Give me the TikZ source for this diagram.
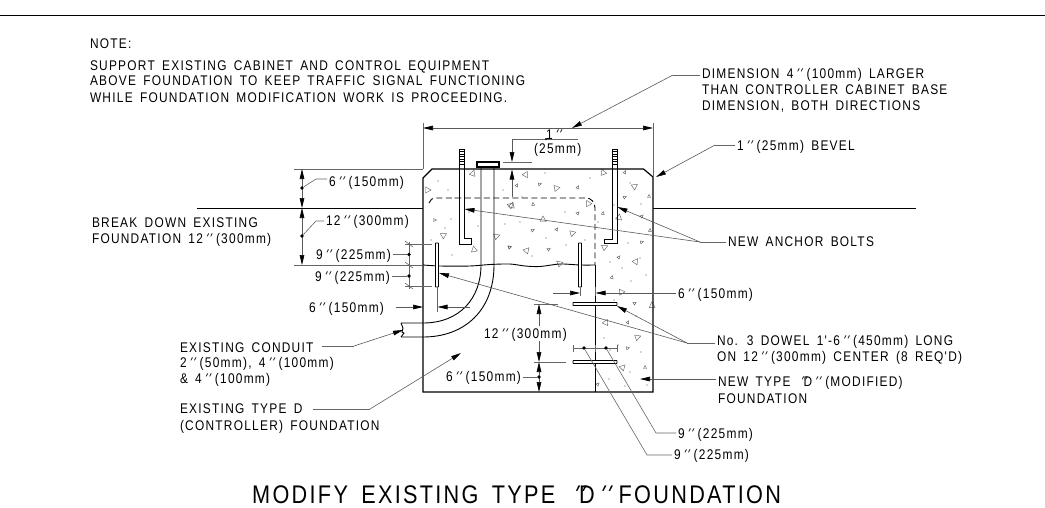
\documentclass[tikz,border=0pt]{standalone}
\usepackage{fontspec}
\usetikzlibrary{arrows.meta}
\newfontfamily\cadfont[FakeStretch=0.85,LetterSpace=9,WordSpace=1.6]{Liberation Sans}
\newfontfamily\cadslant[FakeStretch=0.85,FakeSlant=0.5,LetterSpace=9]{Liberation Sans}
\newcommand{\dq}{{\cadslant''}}
\tikzset{
  lbl/.style={anchor=base west,inner sep=0pt,outer sep=2pt,font=\cadfont\fontsize{14}{14}\selectfont},
  ttl/.style={anchor=base west,inner sep=0pt,font=\cadfont\fontsize{25.5}{26}\selectfont},
  heavy/.style={line width=1.2pt,black},
  mid/.style={line width=0.9pt,black},
  thin line/.style={line width=0.6pt,black!60},
  dimarrow/.style={line width=0.6pt,black!65,{Triangle[length=10pt,width=4.6pt,black]}-{Triangle[length=10pt,width=4.6pt,black]}},
  tipend/.style={line width=0.6pt,black!65,-{Triangle[length=10pt,width=4.6pt,black]}},
  pebble/.style={line width=0.45pt,black!60},
  speck/.style={fill=black!70,draw=none},
  dimdot/.style={circle,fill=black,inner sep=0pt,minimum size=3.6pt},
  dowel/.style={line width=0.9pt,black,fill=white,rounded corners=0.5pt}
}
\begin{document}
\begin{tikzpicture}[x=1pt,y=-1pt]
\useasboundingbox (0,0) rectangle (1045,507);
\draw[line width=1pt] (0,15) -- (1045,15);
% ground
\draw[line width=1pt] (197,208) -- (423,208) (653,208) -- (916,208);
% aggregate
\foreach \x/\y/\a in {428/190/0,444/235/30,473/173/70,474/249/100,497/236/20,526/174/60,557/188/10,511/205/40,588/203/120,543/219/90,573/233/15,527/250/50,559/263/140,605/247/25,619/217/80,635/186/35,603/172/110,636/261/55,622/292/5,652/305/95,606/322/65,638/337/20,623/367/45,512/205/75}
  \draw[pebble,rotate around={\a:(\x,\y)}] (\x-2.5,\y-3) -- (\x+3,\y) -- (\x-2.5,\y+3) -- cycle;
\foreach \x/\y/\a in {435/220/0,510/247/30,517/185/60,540/184/15,578/187/70,533/204/100,578/213/45,603/213/80,533/230/20,557/229/55,510/247/10,549/249/35,625/172/65,625/197/25,649/196/90,642/216/40,650/230/85,642/242/15,619/257/50,612/277/75,635/303/30,628/322/60,628/348/10,645/367/90,598/384/45}
  \draw[pebble,rotate around={\a:(\x,\y)}] (\x-1.5,\y-1.5) -- (\x+1.5,\y) -- (\x-1.5,\y+1.5) -- cycle;
\foreach \x/\y in {438/181,448/190,451/219,431/240,455/198,469/212,478/226,452/255,445/228,503/190,522/197,545/173,565/212,590/178,598/222,630/183,641/204,614/205,585/240,566/245,505/224,520/222,532/256,546/238,628/243,640/258,610/262,622/268,646/275,631/281,614/300,636/316,604/338,618/345,641/352,630/372,609/379,647/385,625/386,610/350}
  \fill[speck] (\x,\y) circle (0.6);
% foundation
\draw[heavy] (423,392) -- (423,178) -- (432,169) -- (643.5,169) -- (653,177) -- (653,392) -- cycle;
\draw[mid] (595,265) -- (595,392);
\draw[mid,dash pattern=on 6pt off 3.5pt] (429,203) .. controls (430,200) and (432,198) .. (436,198) -- (586,198) .. controls (591,198) and (595,202) .. (595,208) -- (595,265);
\draw[mid] plot[smooth] coordinates {(423,265) (440,266) (470,266) (490,264.5) (510,264) (525,266) (540,266.5) (560,264) (580,265) (595,265)};
% conduit
\draw[mid] (481,167) -- (481,265) .. controls (481,298) and (460,323) .. (423,323) -- (401,323);
\draw[mid] (494,167) -- (494,265) .. controls (494,310) and (465,337) .. (423,337) -- (401,337);
\draw[mid] (401,323) -- (403,328) -- (402,332) -- (404,333) -- (401,337);
\draw[heavy,fill=white] (477,162) rectangle (499,167);
% anchor bolts
\draw[mid] (459,149) -- (459,244) -- (471,244) -- (471,238) -- (464,238) -- (464,149) -- cycle;
\draw[mid] (617,149) -- (617,243) -- (604,243) -- (604,239) -- (612,239) -- (612,149) -- cycle;
\foreach \y in {151.5,154,156.5,159,161.5,164}{
  \draw[line width=0.5pt] (459,\y) -- (464,\y) (612,\y) -- (617,\y);
}
% dowels
\draw[dowel] (435.5,243) rectangle (438.5,287);
\draw[dowel] (578.5,243) rectangle (581.5,287);
\draw[dowel] (573,302.5) rectangle (617,305.5);
\draw[dowel] (573,360.5) rectangle (617,363.5);
% overall dimension
\draw[thin line] (423,123) -- (423,169) (653,123) -- (653,177);
\draw[dimarrow] (423,128) -- (653,128);
% bar dimension at top
\node[lbl] (oneinch) at (544,139) {1\dq};
\node[lbl] (bar) at (532,153) {(25mm)};
\draw[thin line] (512,139) -- (578,139);
\fill (546,139) circle (1.2);
\draw[tipend] (512,139) -- (512,162);
\draw[thin line] (503,162) -- (532,162);
\draw[tipend] (512,197) -- (512,169.5);
% left dimensions
\draw[thin line] (294,169) -- (423,169) (294,265) -- (423,265);
\draw[dimarrow] (302,169) -- (302,208);
\draw[dimarrow] (302,208) -- (302,265);
\node[dimdot] (dA) at (302,188) {};
\node[dimdot] (dB) at (302,236) {};
\node[lbl] (sixa) at (327,186) {6\dq\ (150mm)};
\node[lbl] (twelvea) at (324,225) {12\dq\ (300mm)};
\draw[thin line] (dA) -- (316,179) -- (sixa.west |- 0,179);
\draw[thin line] (dB) -- (316,221) -- (twelvea.west |- 0,221);
\draw[thin line] (405,244) -- (432,244) (405,286) -- (432,286) (409,242) -- (409,289);
\draw[thin line] (405,241) -- (413,247) (405,262) -- (413,268) (405,283) -- (413,289);
\node[dimdot] (dC) at (409,254.5) {};
\node[dimdot] (dD) at (409,276) {};
\node[lbl] (ninea) at (314,259) {9\dq\ (225mm)};
\node[lbl] (nineb) at (313,281) {9\dq\ (225mm)};
\draw[thin line] (ninea.east |- 0,254.5) -- (dC);
\draw[thin line] (nineb.east |- 0,276) -- (dD);
\node[lbl] (sixb) at (307,312) {6\dq\ (150mm)};
\draw[thin line] (437,287) -- (437,312);
\draw[tipend] (396,307) -- (423,307);
\draw[tipend] (470,307) -- (437.5,307);
% inner dimensions
\draw[thin line] (580,287) -- (580,296) (595,287) -- (595,296);
\draw[tipend] (553,293) -- (580,293);
\node[lbl] (sixc) at (676,298) {6\dq\ (150mm)};
\draw[tipend] (sixc.west |- 0,293) -- (595.5,293);
\draw[thin line] (534,304) -- (558,304) (534,362) -- (566,362);
\draw[tipend] (539,326) -- (539,304);
\draw[tipend] (539,341) -- (539,362);
\node[lbl] (twelveb) at (482,338) {12\dq\ (300mm)};
\draw[dimarrow] (539,362) -- (539,392);
\node[dimdot] (dE) at (539,377) {};
\node[lbl] (sixd) at (444,381) {6\dq\ (150mm)};
\draw[thin line] (sixd.east |- 0,377) -- (dE);
\draw[thin line] (573,348) -- (617,348) (573,345) -- (573,352) (595,345) -- (595,352) (617,345) -- (617,352);
\node[dimdot] (dF) at (584,348) {};
\node[dimdot] (dG) at (606,348) {};
\node[lbl] (ninec) at (676,438) {9\dq\ (225mm)};
\node[lbl] (nined) at (672,459) {9\dq\ (225mm)};
\draw[thin line] (dG) -- (656,433) -- (ninec.west |- 0,433);
\draw[thin line] (dF) -- (647,455) -- (nined.west |- 0,455);
% note
\node[lbl] (nt0) at (88,48) {NOTE:};
\node[lbl] (nt1) at (88,70) {SUPPORT EXISTING CABINET AND CONTROL EQUIPMENT};
\node[lbl] (nt2) at (88,85) {ABOVE FOUNDATION TO KEEP TRAFFIC SIGNAL FUNCTIONING};
\node[lbl] (nt3) at (88,102) {WHILE FOUNDATION MODIFICATION WORK IS PROCEEDING.};
% left notes
\node[lbl] (bd1) at (90,227) {BREAK DOWN EXISTING};
\node[lbl] (bd2) at (90,243) {FOUNDATION 12\dq\ (300mm)};
\node[lbl] (ec1) at (178,352) {EXISTING CONDUIT};
\node[lbl] (ec2) at (178,367) {2\dq\ (50mm), 4\dq\ (100mm)};
\node[lbl] (ec3) at (178,383) {\& 4\dq\ (100mm)};
\node[lbl] (et1) at (178,413) {EXISTING TYPE D};
\node[lbl] (et2) at (178,430) {(CONTROLLER) FOUNDATION};
\coordinate (tipEC) at (403,330);
\coordinate (tipET) at (461,353);
\draw[thin line] (322,346) -- (354,346);
\draw[tipend] (354,346) -- (tipEC);
\draw[thin line] (313,409) -- (370,409);
\draw[tipend] (370,409) -- (tipET);
% right notes
\node[lbl] (dm1) at (700,78) {DIMENSION 4\dq\ (100mm) LARGER};
\node[lbl] (dm2) at (700,94) {THAN CONTROLLER CABINET BASE};
\node[lbl] (dm3) at (700,110) {DIMENSION, BOTH DIRECTIONS};
\coordinate (tipDM) at (572,128);
\draw[thin line] (dm1.west |- 0,75) -- (673,75);
\draw[tipend] (673,75) -- (tipDM);
\node[lbl] (bv) at (735,150) {1\dq\ (25mm) BEVEL};
\coordinate (tipBV) at (656,177);
\draw[thin line] (bv.west |- 0,145) -- (715,145);
\draw[tipend] (715,145) -- (tipBV);
\node[lbl] (nb) at (726,246) {NEW ANCHOR BOLTS};
\coordinate (tipNBa) at (617.5,207);
\coordinate (tipNBb) at (464.5,209);
\draw[thin line] (nb.west |- 0,242) -- (700,242);
\draw[tipend] (700,242) -- (tipNBa);
\draw[tipend] (700,242) -- (tipNBb);
\node[lbl] (dw1) at (715,345) {No. 3 DOWEL 1'-6\dq\ (450mm) LONG};
\node[lbl] (dw2) at (715,361) {ON 12\dq\ (300mm) CENTER (8 REQ'D)};
\coordinate (tipDWa) at (617,306);
\coordinate (tipDWb) at (439,273);
\draw[thin line] (dw1.west |- 0,343) -- (687,343);
\draw[tipend] (687,343) -- (tipDWa);
\draw[tipend] (687,343) -- (tipDWb);
\node[lbl] (nt4) at (716,386) {NEW TYPE \dq D\dq\ (MODIFIED)};
\node[lbl] (nt5) at (716,403) {FOUNDATION};
\coordinate (tipNT) at (640,379);
\draw[tipend] (nt4.west |- 0,379) -- (tipNT);
% title
\node[ttl] (title) at (252,503) {MODIFY EXISTING TYPE \dq D\dq\ FOUNDATION};
\end{tikzpicture}
\end{document}
